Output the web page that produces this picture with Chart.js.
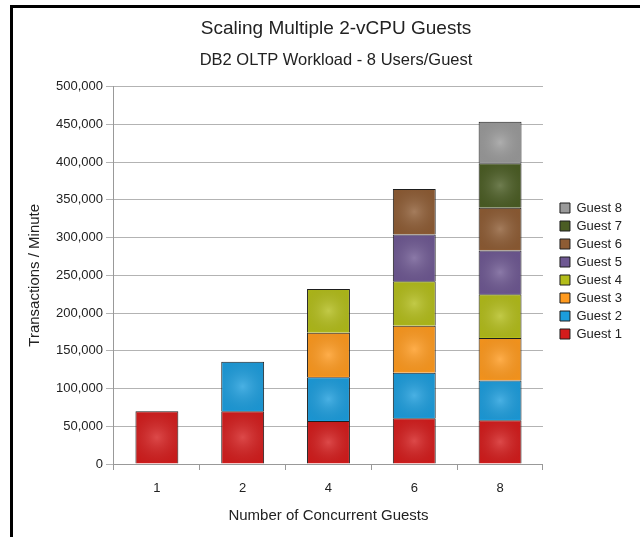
<!DOCTYPE html>
<html>
<head>
<meta charset="utf-8">
<script src="https://cdn.jsdelivr.net/npm/chart.js@4/dist/chart.umd.min.js"></script>
<style>
  body { margin: 0; background: #fff; }
  #wrap { position: relative; width: 640px; height: 537px; }
  #frame {
    position: absolute; left: 10px; top: 5px; right: 0; bottom: 0;
    border-top: 3px solid #000; border-left: 3px solid #000;
    pointer-events: none;
  }
</style>
</head>
<body>
<div id="wrap">
  <canvas id="myChart" width="640" height="537"></canvas>
  <div id="frame"></div>
</div>
<script>
var categories = ["1", "2", "4", "6", "8"];

var guest1 = [70000, 70000, 57000, 60500, 58000];
var guest2 = [null, 65500, 58000, 60500, 52500];
var guest3 = [null, null, 59000, 62000, 56500];
var guest4 = [null, null, 58000, 59000, 58000];
var guest5 = [null, null, null, 62000, 58000];
var guest6 = [null, null, null, 60500, 56500];
var guest7 = [null, null, null, null, 59000];
var guest8 = [null, null, null, null, 55000];

var seriesNames = ["Guest 1", "Guest 2", "Guest 3", "Guest 4", "Guest 5", "Guest 6", "Guest 7", "Guest 8"];
var seriesData = [guest1, guest2, guest3, guest4, guest5, guest6, guest7, guest8];
var seriesColors = ["#d41c1c", "#1c9ddd", "#ff9a1e", "#b3bd1a", "#6e5892", "#8e5c34", "#4b5d24", "#9a9a9a"];

var datasets = seriesData.map(function (d, i) {
  return {
    label: seriesNames[i],
    data: d,
    backgroundColor: seriesColors[i],
    borderColor: "#1e1e1e",
    borderWidth: 1,
    barPercentage: 0.5,
    categoryPercentage: 1,
  };
});

// soft light spot in the middle of each bar, like the original's shading
var shine = {
  id: "shine",
  afterDatasetsDraw: function (chart) {
    var c = chart.ctx;
    chart.data.datasets.forEach(function (ds, i) {
      chart.getDatasetMeta(i).data.forEach(function (bar, j) {
        if (ds.data[j] == null) return;
        var p = bar.getProps(["x", "y", "base", "width"], true);
        var top = Math.min(p.y, p.base), h = Math.abs(p.base - p.y);
        var cx = p.x, cy = top + h / 2;
        var g = c.createRadialGradient(cx, cy, 0, cx, cy, Math.max(p.width, h) * 0.6);
        g.addColorStop(0, "rgba(255,255,255,0.2)");
        g.addColorStop(1, "rgba(0,0,0,0.06)");
        c.save();
        c.fillStyle = g;
        c.fillRect(p.x - p.width / 2 + 1, top + 1, p.width - 2, h - 2);
        c.restore();
      });
    });
  },
};

// the original sits the titles and the legend a bit further right
var nudge = {
  id: "nudge",
  afterLayout: function (chart) {
    chart.boxes.forEach(function (b) {
      if (b === chart.legend) {
        b.left += 12;
        b.right += 12;
      } else if (b.position === "top") {
        b.left += 13;
        b.right += 13;
      }
    });
  },
};

var ctx = document.getElementById("myChart").getContext("2d");

Chart.defaults.font.family = "'Liberation Sans', Arial, sans-serif";
Chart.defaults.color = "#222";

var myChart = new Chart(ctx, {
  type: "bar",
  data: {
    labels: categories,
    datasets: datasets,
  },
  plugins: [shine, nudge],
  options: {
    responsive: false,
    animation: false,
    layout: {
      padding: { top: 17, left: 26, right: 20, bottom: 12 },
    },
    plugins: {
      title: {
        display: true,
        text: "Scaling Multiple 2-vCPU Guests",
        font: { size: 19, weight: "normal" },
        padding: { top: 0, bottom: 11 },
      },
      subtitle: {
        display: true,
        text: "DB2 OLTP Workload - 8 Users/Guest",
        font: { size: 16.5 },
        padding: { top: 0, bottom: 16 },
      },
      legend: {
        position: "right",
        reverse: true,
        labels: {
          boxWidth: 10,
          boxHeight: 10,
          padding: 5,
          font: { size: 13 },
        },
      },
      tooltip: { enabled: false },
    },
    scales: {
      x: {
        stacked: true,
        grid: {
          drawOnChartArea: false,
          tickLength: 6,
          color: "#999",
        },
        border: { color: "#999" },
        ticks: { font: { size: 13, lineHeight: 1 }, padding: 12 },
        title: {
          display: true,
          text: "Number of Concurrent Guests",
          font: { size: 15 },
          padding: { top: 0, bottom: 0 },
        },
      },
      y: {
        stacked: true,
        min: 0,
        max: 500000,
        ticks: {
          stepSize: 50000,
          font: { size: 13 },
          padding: 3,
          callback: function (v) { return v.toLocaleString("en-US"); },
        },
        grid: { color: "#b3b3b3", tickLength: 8 },
        border: { color: "#999" },
        title: {
          display: true,
          text: "Transactions / Minute",
          font: { size: 15 },
          padding: { top: 0, bottom: 9 },
        },
      },
    },
  },
});
</script>
</body>
</html>
